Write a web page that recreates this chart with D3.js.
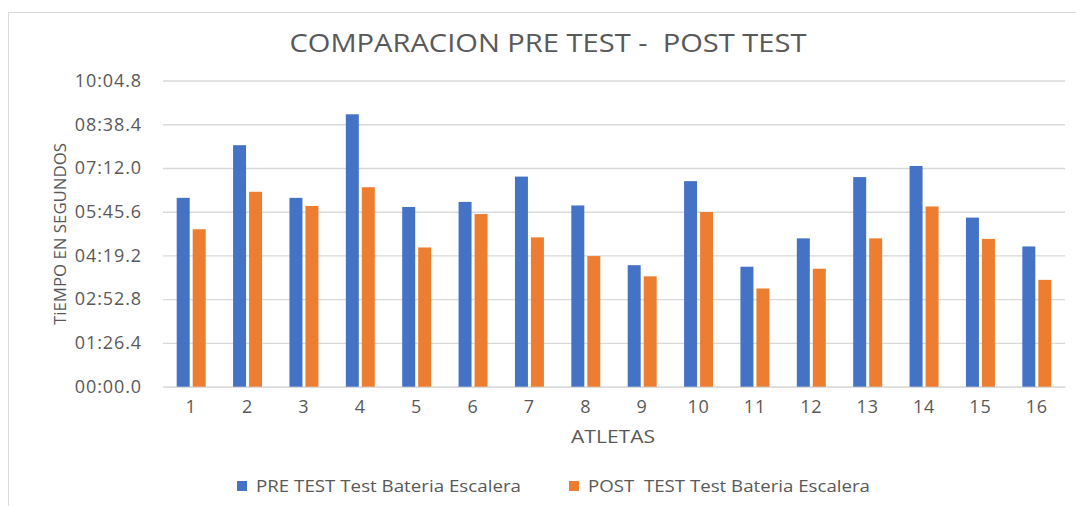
<!DOCTYPE html>
<html lang="es">
<head>
    <meta charset="utf-8">
    <title>Comparacion pre test - post test</title>
    <script src="https://d3js.org/d3.v7.min.js"></script>
    <style>
        body { margin: 0; background: #fff; }
        text { font-family: "Open Sans", "Liberation Sans", sans-serif; fill: #595959; }
    </style>
</head>
<body>
    <div id="chart"></div>
    <script>
        // Datos (tiempo en segundos)
        const atletas = ["1","2","3","4","5","6","7","8","9","10","11","12","13","14","15","16"];
        const preTest  = [373, 477, 373, 538, 355, 365, 415, 358, 240, 406, 237, 293, 414, 436, 334, 277];
        const postTest = [311, 385, 357, 394, 275, 341, 295, 258, 218, 345, 194, 233, 293, 356, 292, 211];
        const yTicks = [0, 86.4, 172.8, 259.2, 345.6, 432, 518.4, 604.8];
        const series = ["PRE TEST Test Bateria Escalera", "POST  TEST Test Bateria Escalera"];
        const colors = ["#4472C4", "#ED7D31"];

        const width = 1076, height = 506;
        const svg = d3.select("#chart").append("svg")
            .attr("width", width)
            .attr("height", height);

        // marco del grafico
        svg.append("rect")
            .attr("x", 8.5).attr("y", 12.5)
            .attr("width", 1100).attr("height", 520)
            .attr("fill", "none")
            .attr("stroke", "#d9d9d9");

        const x = d3.scaleBand()
            .domain(atletas)
            .range([163, 1065])
            .paddingInner(0.486)
            .paddingOuter(0.243);

        const x1 = d3.scaleBand()
            .domain([0, 1])
            .range([0, x.bandwidth()])
            .paddingInner(0.1875);

        const y = d3.scaleLinear()
            .domain([0, 604.8])
            .range([386.7, 80.5]);

        function fmt(s) {
            const m = Math.floor(s / 60);
            const r = s - m * 60;
            return String(m).padStart(2, "0") + ":" + r.toFixed(1).padStart(4, "0");
        }

        // texto estirado como en el original
        function stretch(sel, len) {
            sel.attr("textLength", len).attr("lengthAdjust", "spacingAndGlyphs");
        }

        // grid + eje Y
        const yAxis = svg.append("g")
            .attr("transform", "translate(163,0)")
            .call(d3.axisLeft(y).tickValues(yTicks).tickFormat(fmt).tickSize(-902).tickPadding(21));
        yAxis.select(".domain").remove();
        yAxis.selectAll(".tick line").attr("stroke", "#d9d9d9").attr("stroke-width", 1.3);
        yAxis.selectAll(".tick text")
            .style("font-size", "18px")
            .style("letter-spacing", "0.9px")
            .attr("fill", "#595959");

        // eje X
        const xAxis = svg.append("g")
            .attr("transform", "translate(0,386.7)")
            .call(d3.axisBottom(x).tickSize(0).tickPadding(14));
        xAxis.select(".domain").attr("stroke", "#d9d9d9").attr("stroke-width", 1.3);
        xAxis.selectAll(".tick text")
            .style("font-size", "18px")
            .style("letter-spacing", "0.9px")
            .attr("fill", "#595959");

        // barras
        const data = [preTest, postTest];
        data.forEach((vals, i) => {
            svg.append("g").selectAll("rect")
                .data(vals)
                .join("rect")
                .attr("x", (d, j) => x(atletas[j]) + x1(i))
                .attr("y", d => y(d))
                .attr("width", x1.bandwidth())
                .attr("height", d => y(0) - y(d))
                .attr("fill", colors[i]);
        });

        // titulo
        svg.append("text")
            .attr("x", 548).attr("y", 52)
            .attr("text-anchor", "middle")
            .style("font-size", "25px")
            .style("white-space", "pre")
            .text("COMPARACION PRE TEST -  POST TEST")
            .call(stretch, 517);

        // titulos de ejes
        svg.append("text")
            .attr("x", 613).attr("y", 443)
            .attr("text-anchor", "middle")
            .style("font-size", "18px")
            .text("ATLETAS")
            .call(stretch, 84);

        svg.append("text")
            .attr("transform", "translate(66,234) rotate(-90)")
            .attr("text-anchor", "middle")
            .style("font-size", "17px")
            .text("TiEMPO EN SEGUNDOS")
            .call(stretch, 182);

        // leyenda
        const legX = [237, 569];
        const legLen = [265, 282];
        series.forEach((s, i) => {
            const g = svg.append("g").attr("transform", `translate(${legX[i]},481)`);
            g.append("rect").attr("width", 10).attr("height", 10).attr("fill", colors[i]);
            g.append("text")
                .attr("x", 19).attr("y", 11)
                .style("font-size", "17px")
                .style("white-space", "pre")
                .text(s)
                .call(stretch, legLen[i]);
        });
    </script>
</body>
</html>
